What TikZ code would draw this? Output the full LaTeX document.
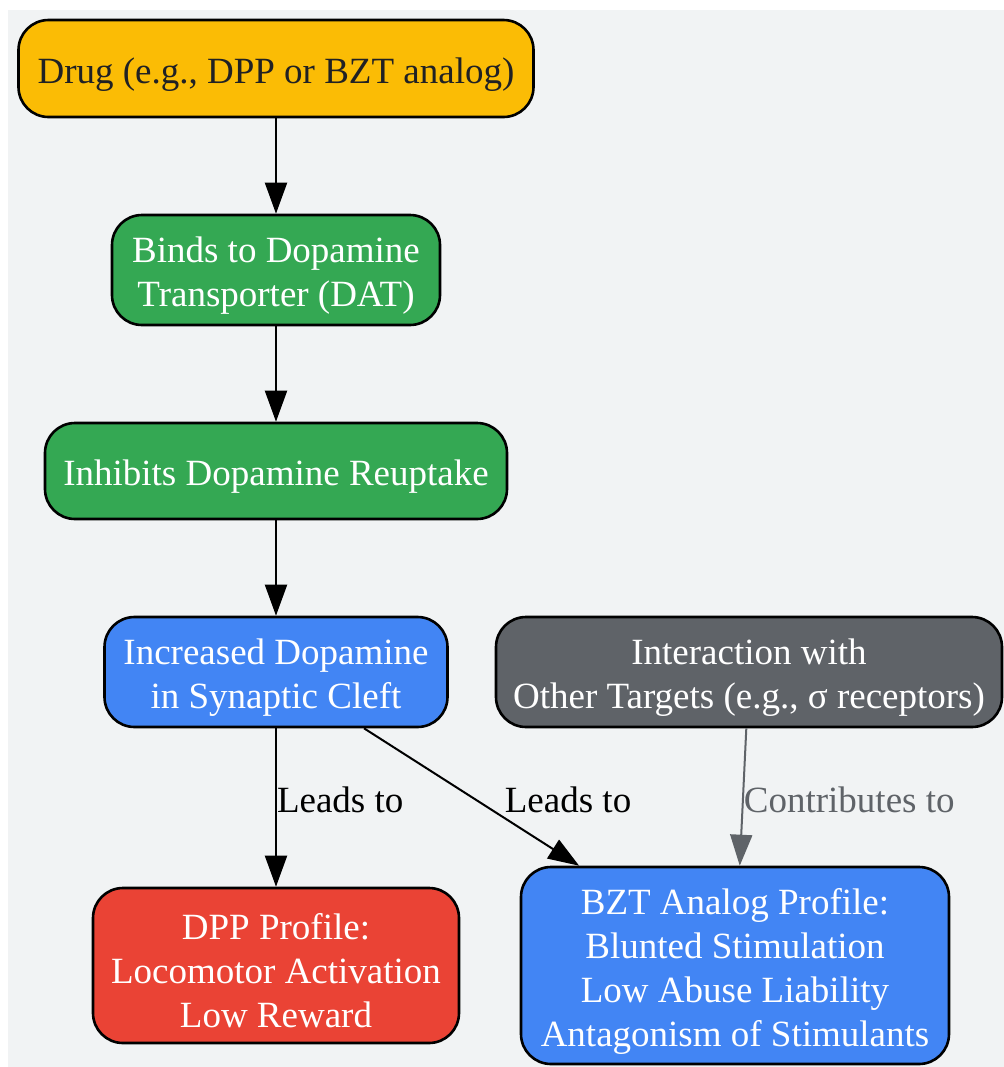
\documentclass[tikz,border=0pt]{standalone}
\usepackage{fontspec}
\setmainfont{Liberation Serif}
\usetikzlibrary{arrows.meta}

\definecolor{pagebg}{HTML}{F1F3F4}
\definecolor{gyellow}{HTML}{FBBC05}
\definecolor{ggreen}{HTML}{34A853}
\definecolor{gblue}{HTML}{4285F4}
\definecolor{gred}{HTML}{EA4335}
\definecolor{ggray}{HTML}{5F6368}
\definecolor{gtext}{HTML}{202124}

% strut that lowers box text a little
\newcommand{\topstrut}{\rule{0pt}{18.5pt}}

\begin{document}
\begin{tikzpicture}[
    x=0.5pt, y=-0.5pt,
    every node/.style={font=\fontsize{18.5}{22}\selectfont, align=center, inner sep=0pt},
    box/.style={draw=black, line width=1.3pt, rounded corners=15pt, text=white},
    link/.style={-{Triangle[length=15.5pt, width=11pt]}, line width=1pt},
]
\useasboundingbox (0,0) rectangle (1004,1067);
\fill[pagebg] (8,10) rectangle (1004,1067);

\node[box, fill=gyellow, text=gtext, minimum width=257.5pt, minimum height=48.5pt] (drug) at (276,68.5) {\topstrut Drug (e.g., DPP or BZT analog)};
\node[box, fill=ggreen, minimum width=164pt, minimum height=55pt] (dat) at (276,270) {\topstrut Binds to Dopamine\\Transporter (DAT)};
\node[box, fill=ggreen, minimum width=231pt, minimum height=48pt] (reuptake) at (276,471) {\topstrut Inhibits Dopamine Reuptake};
\node[box, fill=gblue, minimum width=171.5pt, minimum height=55pt] (cleft) at (276,672) {\topstrut Increased Dopamine\\in Synaptic Cleft};
\node[box, fill=ggray, minimum width=253pt, minimum height=55pt] (targets) at (749,672) {\topstrut Interaction with\\Other Targets (e.g., σ receptors)};
\node[box, fill=gred, minimum width=183pt, minimum height=77.5pt] (dpp) at (276,965.5) {\topstrut DPP Profile:\\Locomotor Activation\\Low Reward};
\node[box, fill=gblue, minimum width=214pt, minimum height=98.5pt] (bzt) at (735,965.5) {\topstrut BZT Analog Profile:\\Blunted Stimulation\\Low Abuse Liability\\Antagonism of Stimulants};

\draw[link] (drug) -- (dat);
\draw[link] (dat) -- (reuptake);
\draw[link] (reuptake) -- (cleft);
\draw[link] (cleft) -- node[pos=0.45, anchor=west] {Leads to} (dpp);
\draw[link] (cleft) -- node[pos=0.52, anchor=west, xshift=14pt] {Leads to} (bzt);
\draw[link, ggray] (targets) -- node[pos=0.52, anchor=west] {Contributes to} (bzt);
\end{tikzpicture}
\end{document}
